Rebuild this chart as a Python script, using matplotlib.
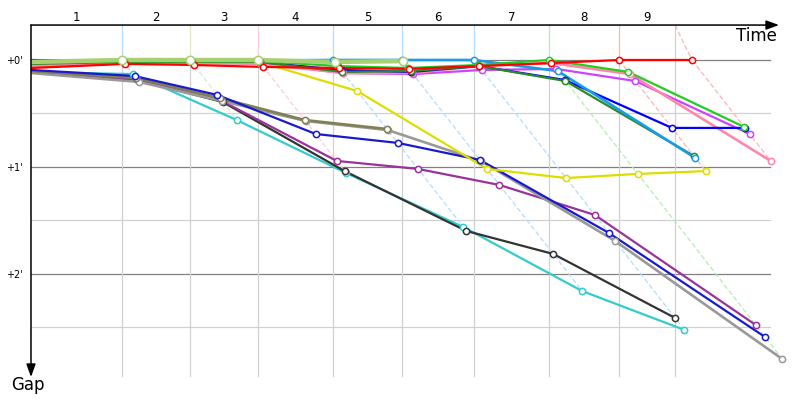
import matplotlib
matplotlib.use('Agg')
import matplotlib.pyplot as plt

# leader crossing time at the end of each lap (s)
lapTimes = [65.5, 114.4, 163.3, 217.3, 266.9, 318.7, 372.7, 423.0, 475.5]
# vertical grid at each lap boundary (last one is the end line)
gridTimes = [65.5, 114.4, 163.3, 217.3, 266.9, 318.7, 372.7, 423.0, 463.3]
lapLabels = ['1', '2', '3', '4', '5', '6', '7', '8', '9']
lapColors = ['#b4dcff', '#dde9c8', '#ffccdc', '#b4dcff', '#b4dcff', '#b4dcff',
             '#b4ecb4', '#ffb4b4', '#ffb4b4']

# gap to leader (s) per lap, index 0 = start
gapCyan = [6.7, 7.9, 33.7, 63.4, 93.7, 129.6, 151.4]
gapBlack = [6.7, 11.2, 23.6, 62.3, 95.9, 108.8, 144.7]
gapPurple = [6.7, 10.7, 23.0, 56.6, 61.1, 70.1, 86.9, 148.6]
gapOlive = [6.2, 10.1, 21.3, 33.7, 38.7]
gapGray = [7.3, 12.3, 23.0, 34.2, 39.3, 56.6, 101.5, 167.7]
gapNavy = [5.6, 9.0, 19.6, 41.5, 46.5, 56.1, 97.0, 155.4]
gapYellow = [2.2, 1.1, 1.1, 1.1, 17.4, 61.1, 66.2, 63.9, 62.3]
gapMagenta = [0.6, 1.1, 1.1, 1.7, 7.3, 7.9, 5.6, 5.0, 11.8, 41.5]
gapPink = [3.4, 1.7, 1.7, 2.2, 7.3, 7.3, 3.4, 1.7, 7.9, 56.6]
gapBlue = [0.0, 0.6, 0.6, 1.1, 5.6, 6.7, 3.4, 11.2, 38.1, 38.1]
gapDkGreen = [2.2, 1.1, 1.1, 1.1, 6.7, 6.2, 3.4, 11.8, 53.8]
gapGreen = [1.7, 0.6, 0.6, 0.6, 3.4, 4.5, 2.8, 0.0, 6.7, 37.6]
gapRed = [4.5, 2.2, 2.8, 3.9, 4.5, 5.0, 3.4, 1.7, 0.0, 0.0]
gapSky = [0.6, 0.3, 0.3, 0.3, 0.0, 0.0, 0.0, 6.2, 55.0]
gapYGreen = [1.1, 0.0, 0.0, 0.0, 1.1, 0.6]

series = [
    (gapCyan, '#33cccc', 1.6, 4.5),
    (gapBlack, '#333333', 1.6, 4.5),
    (gapPurple, '#993399', 1.6, 4.5),
    (gapGray, '#999999', 1.9, 4.5),
    (gapOlive, '#808055', 1.9, 4.5),
    (gapNavy, '#1a1acc', 1.6, 4.5),
    (gapYellow, '#dddd00', 1.6, 4.5),
    (gapMagenta, '#cc44ff', 1.6, 4.5),
    (gapPink, '#ff88aa', 1.9, 4.5),
    (gapBlue, '#0000ff', 1.6, 4.5),
    (gapDkGreen, '#2a8a2a', 1.6, 4.5),
    (gapSky, '#1a9be6', 1.9, 4.5),
    (gapGreen, '#22cc22', 1.6, 4.5),
    (gapRed, '#ff0000', 1.6, 4.5),
    (gapYGreen, '#a8d070', 3.2, 6.0),
]

yTop = -19.6     # level of the time axis
yBottom = 177.2  # end of the grid
xRight = 531.7   # end of the horizontal grid

fig = plt.figure(figsize=(8, 4), dpi=100)
ax = fig.add_axes([31 / 800, 0, 769 / 800, 1])
ax.set_xlim(0, 553.2)
ax.set_ylim(190.7, -33.65)
for s in ax.spines.values():
    s.set_visible(False)
ax.set_xticks([])
ax.set_yticks([0, 60, 120], ["+0'", "+1'", "+2'"])
ax.tick_params(axis='y', length=0, pad=6, labelsize=7)

# horizontal grid
for g in [30, 90, 150]:
    ax.plot([0, xRight], [g, g], color='#d0d0d0', lw=0.9, zorder=1)
for g in [0, 60, 120]:
    ax.plot([0, xRight], [g, g], color='#808080', lw=0.9, zorder=1)

# vertical grid, leader marks and isochrone diagonals
for k in range(len(lapTimes)):
    lapGaps = [sg[k + 1] for sg, c, lw, ms in series if len(sg) > k + 1]
    gmax = max(lapGaps)
    if k < len(lapTimes) - 1:
        ax.plot([gridTimes[k], gridTimes[k]], [0, yBottom], color='#d0d0d0', lw=0.9, zorder=1)
        ax.plot([gridTimes[k], gridTimes[k]], [yTop, 0], color=lapColors[k], lw=0.9, zorder=1)
    else:
        ax.plot([gridTimes[k], gridTimes[k]], [yTop, yBottom], color='#d0d0d0', lw=0.9, zorder=1)
        ax.plot([gridTimes[k], lapTimes[k]], [yTop, 0], color=lapColors[k], lw=0.9,
                ls=(0, (4, 2)), zorder=1)
    ax.plot([lapTimes[k], lapTimes[k] + gmax], [0, gmax], color=lapColors[k], lw=0.9,
            ls=(0, (4, 2)), zorder=1)

# lap numbers
edges = [0] + gridTimes
for k, lab in enumerate(lapLabels):
    ax.text((edges[k] + edges[k + 1]) / 2, -23.6, lab, ha='center', va='center', fontsize=8.5)

# cars
for sg, col, lw, ms in series:
    xs = [0] + [lapTimes[k - 1] + sg[k] for k in range(1, len(sg))]
    ax.plot(xs, sg, color=col, lw=lw, zorder=3, solid_joinstyle='round')
    ax.plot(xs[1:], sg[1:], ls='none', marker='o', ms=ms, mfc='white', mec=col,
            mew=1.1, zorder=4)

# axes arrows
arrow = dict(arrowstyle='-|>,head_length=0.55,head_width=0.2', color='black', lw=1.1,
             mutation_scale=14, shrinkA=0, shrinkB=0)
ax.annotate('', xy=(538.1, yTop), xytext=(0, yTop), arrowprops=arrow, zorder=5)
ax.annotate('', xy=(0, 177.8), xytext=(0, yTop), arrowprops=arrow, zorder=5)

fig.text(777 / 800, 1 - 36 / 400, 'Time', ha='right', va='center', fontsize=12)
fig.text(11 / 800, 1 - 385 / 400, 'Gap', ha='left', va='center', fontsize=12)

fig.savefig('out.png', dpi=100)
